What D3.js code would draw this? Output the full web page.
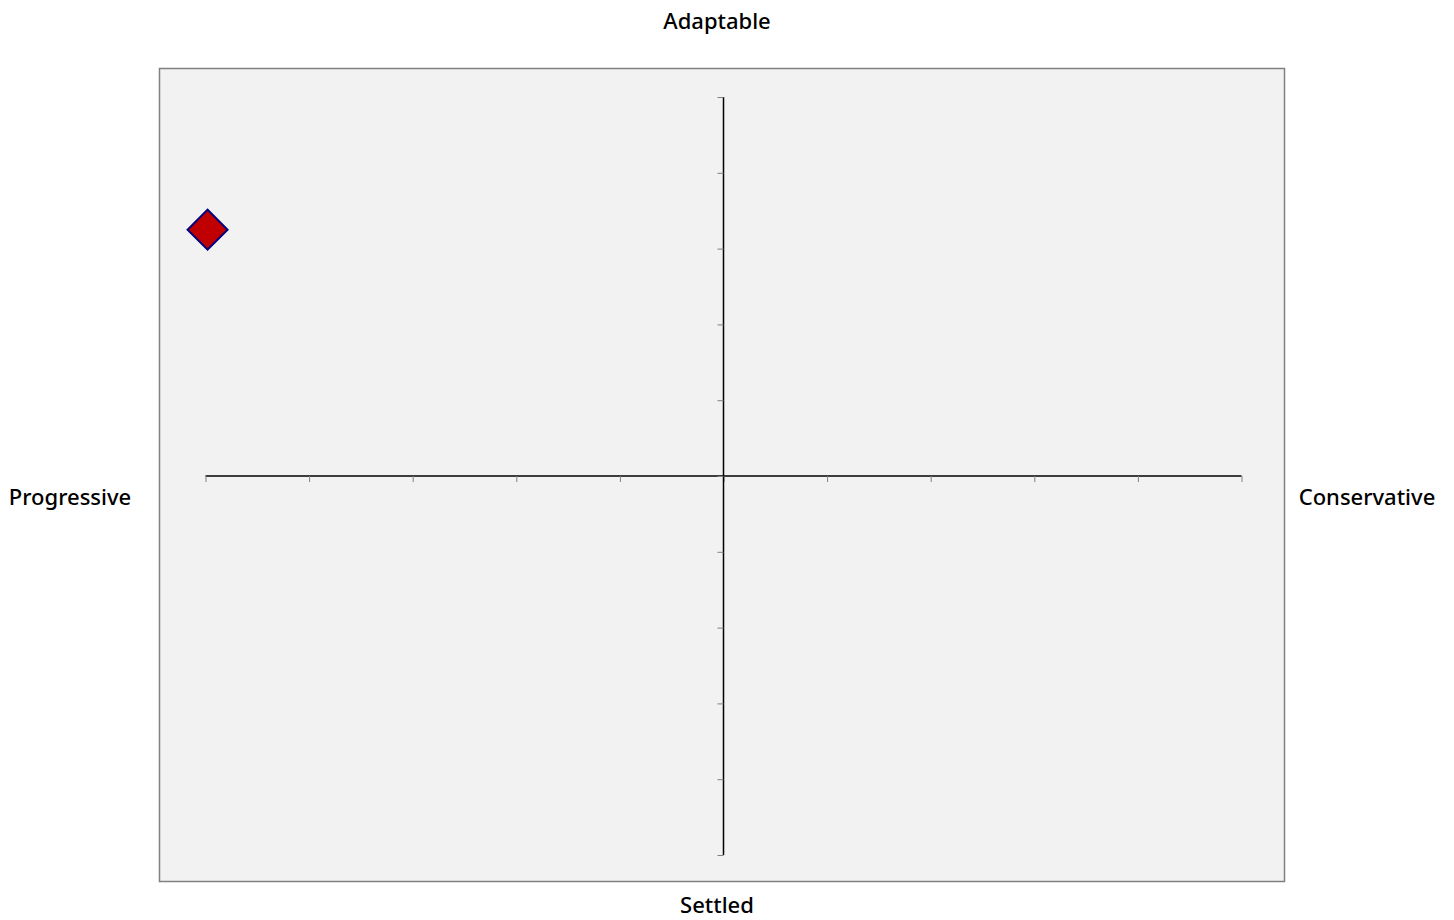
<!DOCTYPE html>
<html>
<head>
<meta charset="utf-8">
<script src="https://cdn.jsdelivr.net/npm/d3@7"></script>
<style>
html,body{margin:0;padding:0;background:#fff;}
text{font-family:"Noto Sans","DejaVu Sans",sans-serif;font-weight:500;fill:#000;}
</style>
</head>
<body>
<svg id="chart" width="1454" height="920"></svg>
<script>
const xDomain = [-5, 5];
const yDomain = [-5, 5];
const tickValues = [-5, -4, -3, -2, -1, 0, 1, 2, 3, 4, 5];
const points = [{x: -4.98, y: 3.25}];
const labels = {top: "Adaptable", bottom: "Settled", left: "Progressive", right: "Conservative"};

const svg = d3.select("#chart");
const plot = {x0: 159.5, y0: 68.5, x1: 1284.5, y1: 881.5};
svg.append("rect").attr("x", plot.x0).attr("y", plot.y0)
  .attr("width", plot.x1 - plot.x0).attr("height", plot.y1 - plot.y0)
  .attr("fill", "#f2f2f2").attr("stroke", "#808080").attr("stroke-width", 1.5);

const x = d3.scaleLinear().domain(xDomain).range([205.5, 1241.5]);
const y = d3.scaleLinear().domain(yDomain).range([855, 97]);

const gx = svg.append("g").attr("transform", `translate(0,${y(0)})`)
  .call(d3.axisBottom(x).tickValues(tickValues).tickSize(6).tickSizeOuter(6).tickFormat(""));
gx.select(".domain").attr("stroke", "#000").attr("stroke-width", 1.5).attr("d", `M${x(-5)},0H${x(5)}`);
gx.selectAll(".tick line").attr("stroke", "#808080");

const gy = svg.append("g").attr("transform", `translate(${x(0)},0)`)
  .call(d3.axisLeft(y).tickValues(tickValues).tickSize(6).tickSizeOuter(6).tickFormat(""));
gy.select(".domain").attr("stroke", "#000").attr("stroke-width", 1.5).attr("d", `M0,${y(5)}V${y(-5)}`);
gy.selectAll(".tick line").attr("stroke", "#808080");

const sym = d3.symbol().type(d3.symbolSquare).size(800);
svg.selectAll("path.pt").data(points).join("path").attr("class", "pt")
  .attr("d", sym)
  .attr("transform", d => `translate(${x(d.x)},${y(d.y)}) rotate(45)`)
  .attr("fill", "#c00000").attr("stroke", "#000080").attr("stroke-width", 2);

svg.append("text").attr("x", 717).attr("y", 29).attr("text-anchor", "middle").attr("font-size", 22).text(labels.top);
svg.append("text").attr("x", 717).attr("y", 913).attr("text-anchor", "middle").attr("font-size", 22).text(labels.bottom);
svg.append("text").attr("x", 70).attr("y", 505).attr("text-anchor", "middle").attr("font-size", 22).text(labels.left);
svg.append("text").attr("x", 1367).attr("y", 505).attr("text-anchor", "middle").attr("font-size", 22).text(labels.right);
</script>
</body>
</html>
